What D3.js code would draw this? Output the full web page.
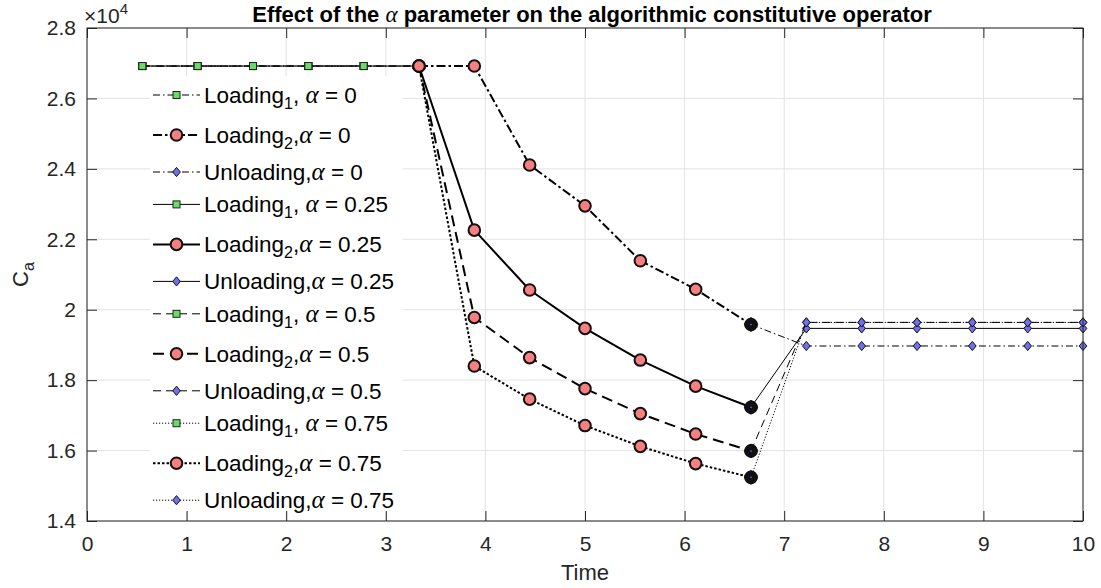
<!DOCTYPE html>
<html>
<head>
<meta charset="utf-8">
<script src="https://cdn.jsdelivr.net/npm/d3@7"></script>
<style>
  body { margin: 0; background: #fff; }
  svg { display: block; font-family: "Liberation Sans", Arial, Helvetica, sans-serif; }
</style>
</head>
<body>
<svg id="chart" width="1101" height="588"></svg>
<script>
// ---- data ----
const alphas = [0, 0.25, 0.5, 0.75];
const alphaLabels = ["0", "0.25", "0.5", "0.75"];

// first loading branch (identical for every alpha)
const timeLoading1 = [0.5556, 1.1111, 1.6667, 2.2222, 2.7778, 3.3333];
const caLoading1 = [26920, 26920, 26920, 26920, 26920, 26920];

// second loading branch
const timeLoading2 = [3.3333, 3.8889, 4.4444, 5.0, 5.5556, 6.1111, 6.6667];
const caLoading2Alpha0 = [26920, 26920, 24110, 22950, 21390, 20580, 19580];
const caLoading2Alpha025 = [26920, 22260, 20560, 19470, 18570, 17830, 17230];
const caLoading2Alpha05 = [26920, 19780, 18640, 17760, 17050, 16470, 15990];
const caLoading2Alpha075 = [26920, 18400, 17460, 16710, 16120, 15630, 15240];

// unloading branch
const timeUnloading = [6.6667, 7.2222, 7.7778, 8.3333, 8.8889, 9.4444, 10.0];
const caUnloadingAlpha0 = [19580, 18970, 18970, 18970, 18970, 18970, 18970];
const caUnloadingAlpha025 = [17230, 19470, 19470, 19470, 19470, 19470, 19470];
const caUnloadingAlpha05 = [15990, 19640, 19640, 19640, 19640, 19640, 19640];
const caUnloadingAlpha075 = [15240, 19640, 19640, 19640, 19640, 19640, 19640];

const xTickValues = [0, 1, 2, 3, 4, 5, 6, 7, 8, 9, 10];
const yTickValues = [14000, 16000, 18000, 20000, 22000, 24000, 26000, 28000];
const yTickLabels = ["1.4", "1.6", "1.8", "2", "2.2", "2.4", "2.6", "2.8"];

const loading2ByAlpha = [caLoading2Alpha0, caLoading2Alpha025, caLoading2Alpha05, caLoading2Alpha075];
const unloadingByAlpha = [caUnloadingAlpha0, caUnloadingAlpha025, caUnloadingAlpha05, caUnloadingAlpha075];

// ---- styling ----
const axisColor = "#262626";
const gridColor = "#e3e3e3";
const squareFill = "#66dd66";
const circleFill = "#f77f7f";
const diamondFill = "#6f6ff0";
// line pattern per alpha: dash-dot, solid, dashed, dotted
const thinDash = ["7,3,1.5,3", null, "8,5", "1.2,1.8"];
const thickDash = ["9,3,2.5,3", null, "11,6", "2.5,2"];

const svg = d3.select("#chart");
const plotLeft = 87, plotRight = 1083, plotTop = 28, plotBottom = 521;

const x = d3.scaleLinear().domain([0, 10]).range([plotLeft, plotRight]);
const y = d3.scaleLinear().domain([14000, 28000]).range([plotBottom, plotTop]);

// ---- grid ----
const grid = svg.append("g");
grid.selectAll("line.gx").data(xTickValues).join("line")
  .attr("x1", d => x(d)).attr("x2", d => x(d))
  .attr("y1", plotTop).attr("y2", plotBottom)
  .attr("stroke", gridColor).attr("stroke-width", 1);
grid.selectAll("line.gy").data(yTickValues).join("line")
  .attr("y1", d => y(d)).attr("y2", d => y(d))
  .attr("x1", plotLeft).attr("x2", plotRight)
  .attr("stroke", gridColor).attr("stroke-width", 1);

// ---- series ----
const line = d3.line().x(d => x(d[0])).y(d => y(d[1]));
const plot = svg.append("g");

function diamondPath(w, h) {
  return `M0,${-h}L${w},0L0,${h}L${-w},0Z`;
}

function drawSeries(pts, opts) {
  const g = plot.append("g");
  g.append("path")
    .attr("d", line(pts))
    .attr("fill", "none")
    .attr("stroke", "#000")
    .attr("stroke-width", opts.width)
    .attr("stroke-dasharray", opts.dash)
    .attr("stroke-linejoin", "round");
  pts.forEach((p, i) => {
    if (opts.marker === "square") {
      g.append("rect")
        .attr("x", x(p[0]) - 3.5).attr("y", y(p[1]) - 3.5)
        .attr("width", 7).attr("height", 7)
        .attr("fill", squareFill).attr("stroke", "#222").attr("stroke-width", 1);
    } else if (opts.marker === "circle") {
      g.append("circle")
        .attr("cx", x(p[0])).attr("cy", y(p[1])).attr("r", 5.8)
        .attr("fill", circleFill).attr("stroke", "#111").attr("stroke-width", 2);
    } else {
      // the branch start sits on the end of the heavy loading line
      const heavy = i === 0;
      g.append("path")
        .attr("transform", `translate(${x(p[0])},${y(p[1])})`)
        .attr("d", heavy ? diamondPath(4.5, 4.5) : diamondPath(3.8, 4.6))
        .attr("fill", diamondFill)
        .attr("stroke", "#111")
        .attr("stroke-linejoin", heavy ? "round" : "miter")
        .attr("stroke-width", heavy ? 5 : 1);
    }
  });
}

alphas.forEach((a, k) => {
  drawSeries(timeLoading1.map((t, i) => [t, caLoading1[i]]),
    { width: 1, dash: thinDash[k], marker: "square" });
  drawSeries(timeLoading2.map((t, i) => [t, loading2ByAlpha[k][i]]),
    { width: 2, dash: thickDash[k], marker: "circle" });
  drawSeries(timeUnloading.map((t, i) => [t, unloadingByAlpha[k][i]]),
    { width: 1, dash: thinDash[k], marker: "diamond" });
});

// ---- legend ----
const legend = svg.append("g");
legend.append("rect")
  .attr("x", 150).attr("y", 76).attr("width", 253).attr("height", 436)
  .attr("fill", "#fff");

const legendFont = 22.5;
const kinds = ["Loading1", "Loading2", "Unloading"];
alphas.forEach((a, k) => {
  kinds.forEach((kind, j) => {
    const ly = 95 + k * 109.4 + [0, 40, 77][j];
    const g = legend.append("g");
    const thick = kind === "Loading2";
    g.append("line")
      .attr("x1", 153).attr("x2", 200).attr("y1", ly).attr("y2", ly)
      .attr("stroke", "#000").attr("stroke-width", thick ? 2 : 1)
      .attr("stroke-dasharray", thick ? thickDash[k] : thinDash[k]);
    if (kind === "Loading1") {
      g.append("rect").attr("x", 173).attr("y", ly - 3.5).attr("width", 7).attr("height", 7)
        .attr("fill", squareFill).attr("stroke", "#222");
    } else if (kind === "Loading2") {
      g.append("circle").attr("cx", 176.5).attr("cy", ly).attr("r", 5.8)
        .attr("fill", circleFill).attr("stroke", "#111").attr("stroke-width", 2);
    } else {
      g.append("path").attr("transform", `translate(176.5,${ly})`).attr("d", diamondPath(3.8, 4.6))
        .attr("fill", diamondFill).attr("stroke", "#111");
    }
    const t = g.append("text")
      .attr("x", 204).attr("y", ly + 8)
      .attr("font-size", legendFont).attr("fill", "#000");
    if (kind === "Unloading") {
      t.append("tspan").text("Unloading,");
    } else {
      t.append("tspan").text("Loading");
      t.append("tspan").attr("font-size", 16).attr("dy", 6).text(kind === "Loading1" ? "1" : "2");
      t.append("tspan").attr("dy", -6).text(kind === "Loading1" ? ", " : ",");
    }
    t.append("tspan").attr("font-family", "'Liberation Serif', serif").attr("font-style", "italic")
      .attr("font-size", 25).text("\u03b1");
    t.append("tspan").text(" = " + alphaLabels[k]);
  });
});

// ---- axes ----
const axesG = svg.append("g");
const fmtY = d => yTickLabels[yTickValues.indexOf(d)];

const bottomAxis = axesG.append("g").attr("transform", `translate(0,${plotBottom})`)
  .call(d3.axisBottom(x).tickValues(xTickValues).tickSizeInner(-10).tickSizeOuter(0).tickPadding(15));
const topAxis = axesG.append("g").attr("transform", `translate(0,${plotTop})`)
  .call(d3.axisTop(x).tickValues(xTickValues).tickSizeInner(-10).tickSizeOuter(0).tickFormat(""));
const leftAxis = axesG.append("g").attr("transform", `translate(${plotLeft},0)`)
  .call(d3.axisLeft(y).tickValues(yTickValues).tickSizeInner(-10).tickSizeOuter(0).tickPadding(11).tickFormat(fmtY));
const rightAxis = axesG.append("g").attr("transform", `translate(${plotRight},0)`)
  .call(d3.axisRight(y).tickValues(yTickValues).tickSizeInner(-10).tickSizeOuter(0).tickFormat(""));

[bottomAxis, topAxis, leftAxis, rightAxis].forEach(a => {
  a.select(".domain").remove();
  a.selectAll(".tick line").attr("stroke", axisColor);
  a.selectAll("text").attr("fill", axisColor)
    .attr("font-family", "'Liberation Sans', Arial, sans-serif").attr("font-size", 21);
});

axesG.append("rect")
  .attr("x", plotLeft).attr("y", plotTop).attr("width", plotRight - plotLeft).attr("height", plotBottom - plotTop)
  .attr("fill", "none").attr("stroke", axisColor).attr("stroke-width", 1);

// exponent marker above the y axis
const expo = svg.append("text").attr("x", 84).attr("y", 23)
  .attr("font-size", 21).attr("fill", axisColor);
expo.append("tspan").text("\u00d710");
expo.append("tspan").attr("font-size", 15).attr("dy", -9).text("4");

// axis labels
svg.append("text").attr("x", (plotLeft + plotRight) / 2).attr("y", 580)
  .attr("text-anchor", "middle").attr("font-size", 22).attr("fill", axisColor).text("Time");

const ylab = svg.append("text")
  .attr("transform", `translate(28,${(plotTop + plotBottom) / 2}) rotate(-90)`)
  .attr("text-anchor", "middle").attr("font-size", 22).attr("fill", axisColor);
ylab.append("tspan").text("C");
ylab.append("tspan").attr("font-size", 16).attr("dy", 6).text("a");

// title
const title = svg.append("text").attr("x", 592).attr("y", 22)
  .attr("text-anchor", "middle").attr("font-size", 22).attr("font-weight", "bold").attr("fill", "#000");
title.append("tspan").text("Effect of the ");
title.append("tspan").attr("font-family", "'Liberation Serif', serif").attr("font-style", "italic")
  .attr("font-weight", "normal").attr("font-size", 23).text("\u03b1");
title.append("tspan").text(" parameter on the algorithmic constitutive operator");
</script>
</body>
</html>
